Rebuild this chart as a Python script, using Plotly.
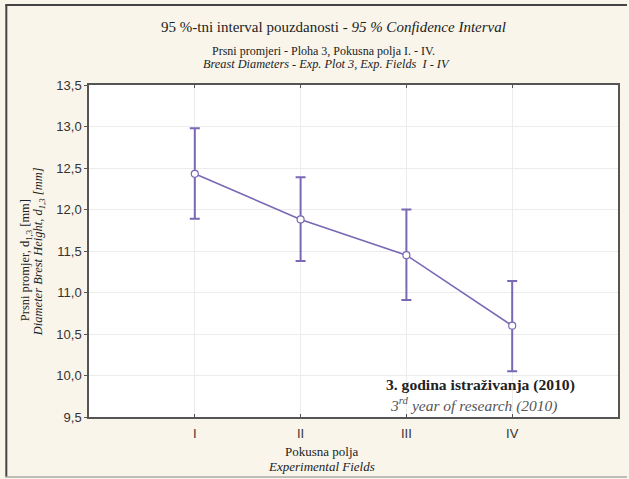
import plotly.graph_objects as go

fields = ["I", "II", "III", "IV"]
means = [12.43, 11.88, 11.45, 10.60]
upper = [12.98, 12.39, 12.00, 11.14]
lower = [11.89, 11.38, 10.91, 10.05]
y_ticks = [9.5, 10.0, 10.5, 11.0, 11.5, 12.0, 12.5, 13.0, 13.5]

xpos = [1, 2, 3, 4]
err_plus = [u - m for u, m in zip(upper, means)]
err_minus = [m - l for m, l in zip(means, lower)]

purple = "#7a68b4"
serif = "Liberation Serif"
sans = "Liberation Sans"

fig = go.Figure()
fig.add_trace(go.Scatter(
    x=xpos, y=means, mode="lines+markers",
    line=dict(color=purple, width=1.6),
    marker=dict(size=7, color="white", line=dict(color=purple, width=1.2)),
    error_y=dict(type="data", symmetric=False, array=err_plus, arrayminus=err_minus,
                 color=purple, thickness=2, width=5),
    showlegend=False,
))

fig.update_layout(
    width=629, height=479,
    margin=dict(l=89, r=9, t=85, b=62),
    paper_bgcolor="#f9f5eb",
    plot_bgcolor="white",
    separators=", ",
    font=dict(family=serif),
    xaxis=dict(
        range=[0, 5], tickmode="array", tickvals=xpos, ticktext=fields,
        showgrid=True, gridcolor="#ececec", gridwidth=1,
        ticks="inside", ticklen=3, tickcolor="#555",
        showline=True, linecolor="#555", linewidth=1.5, mirror="ticks",
        tickfont=dict(family=sans, size=13, color="#333333"),
        ticklabelstandoff=4,
        zeroline=False,
    ),
    yaxis=dict(
        range=[9.5, 13.5], tickmode="array", tickvals=y_ticks,
        ticktext=[f"{v:.1f}".replace(".", ",") for v in y_ticks],
        showgrid=True, gridcolor="#ececec", gridwidth=1,
        ticks="outside", ticklen=3, tickcolor="#555",
        showline=True, linecolor="#555", linewidth=1.5, mirror=True,
        tickfont=dict(family=sans, size=13, color="#333333"),
        zeroline=False,
    ),
)

def py(ypix):
    return 1 - (ypix - 85) / 332

def px(xpix):
    return (xpix - 89) / 531

ann = [
    ("95 %-tni interval pouzdanosti - <i>95 % Confidence Interval</i>", 334, 27, 15),
    ("Prsni promjeri - Ploha 3, Pokusna polja I. - IV.", 324, 51, 12),
    ("<i>Breast Diameters - Exp. Plot 3, Exp. Fields  I - IV</i>", 327, 64, 12.3),
    ("Pokusna polja", 323, 451, 13),
    ("<i>Experimental Fields</i>", 322, 466, 13),
]
for text, x, y, size in ann:
    fig.add_annotation(text=text, xref="paper", x=px(x), yref="paper", y=py(y),
                       xanchor="center", yanchor="middle", showarrow=False,
                       font=dict(family=serif, size=size, color="#222222"))

fig.add_annotation(text="Prsni promjer, d<sub>1,3</sub> [mm]", xref="paper",
                   x=px(26), yref="paper", y=py(260), textangle=-90,
                   xanchor="center", yanchor="middle", showarrow=False,
                   font=dict(family=serif, size=12.5, color="#222222"))
fig.add_annotation(text="<i>Diameter Brest Height, d<sub>1,3</sub> [mm]</i>", xref="paper",
                   x=px(39), yref="paper", y=py(252), textangle=-90,
                   xanchor="center", yanchor="middle", showarrow=False,
                   font=dict(family=serif, size=12.5, color="#222222"))

fig.add_annotation(text="<b>3. godina istraživanja (2010)</b>", xref="paper",
                   x=px(482), yref="paper", y=py(385),
                   xanchor="center", yanchor="middle", showarrow=False,
                   font=dict(family=serif, size=15.6, color="#222222"))
fig.add_annotation(text="<i>3<sup>rd</sup> year of research (2010)</i>", xref="paper",
                   x=px(475), yref="paper", y=py(404),
                   xanchor="center", yanchor="middle", showarrow=False,
                   font=dict(family=serif, size=15.5, color="#555555"))

fig.add_shape(type="line", xref="paper", yref="paper",
              x0=px(5), x1=px(629), y0=py(5), y1=py(5),
              line=dict(color="#444", width=2))
fig.add_shape(type="line", xref="paper", yref="paper",
              x0=px(6), x1=px(6), y0=py(5), y1=py(477),
              line=dict(color="#444", width=2))
fig.add_shape(type="line", xref="paper", yref="paper",
              x0=px(5), x1=px(629), y0=py(477), y1=py(477),
              line=dict(color="#aaa", width=1.5))

fig.write_html("out.html")
